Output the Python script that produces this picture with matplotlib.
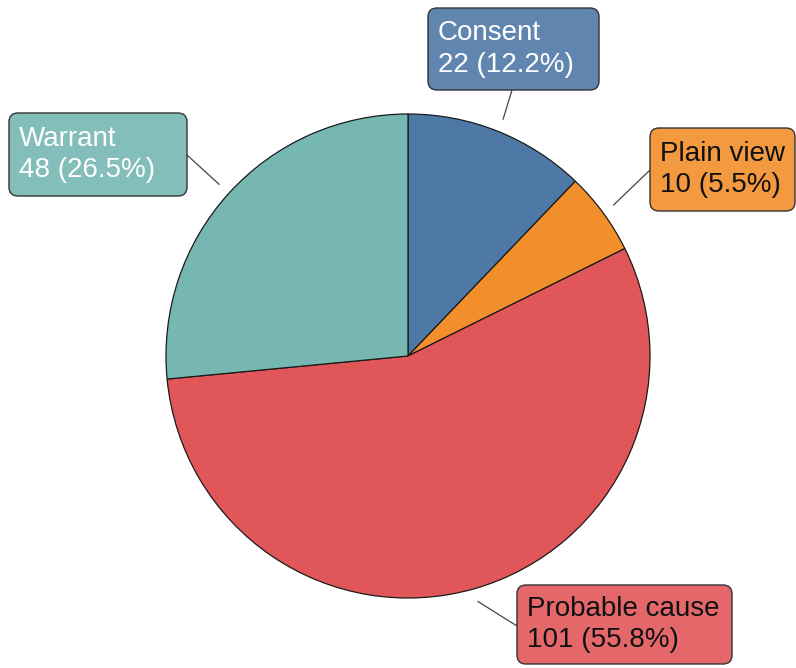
import matplotlib
matplotlib.use("Agg")
import matplotlib.pyplot as plt
from matplotlib.patches import FancyBboxPatch
from matplotlib.colors import to_rgb
import numpy as np

categories = ["Consent", "Plain view", "Probable cause", "Warrant"]
counts = [22, 10, 101, 48]
colors = ["#4e79a7", "#f28e2b", "#e15759", "#76b7b2"]
text_colors = ["white", "#111111", "#111111", "white"]

W, H = 796, 668
fig = plt.figure(figsize=(W / 100, H / 100), dpi=100)
ax = fig.add_axes([0, 0, 1, 1])

cx, cy, R = 408, H - 356, 242
wedges, _ = ax.pie(counts, startangle=90, counterclock=False, colors=colors,
                   center=(cx, cy), radius=R, frame=True,
                   wedgeprops=dict(edgecolor="#1a1a1a", linewidth=0.9))
ax.set_xlim(0, W)
ax.set_ylim(0, H)
ax.set_aspect("equal")
ax.axis("off")

# label boxes (pixel coords, top-origin): x0, y0, x1, y1
boxes = [(428, 8, 599, 90), (650, 128, 795, 211), (517, 585, 732, 664), (9, 113, 187, 196)]
# where each leader line meets its box (pixel coords, top-origin)
anchors = [(512, 90), (650, 170), (517, 626), (187, 155)]

total = sum(counts)
cum = 0
for i, (cat, n) in enumerate(zip(categories, counts)):
    mid = np.deg2rad(90 - (cum + n / 2) / total * 360)
    cum += n
    r1 = 1.055 * R
    ax_, ay_ = anchors[i]
    ax.plot([cx + r1 * np.cos(mid), ax_],
            [cy + r1 * np.sin(mid), H - ay_],
            color="#444444", lw=0.9, zorder=3)
    x0, y0, x1, y1 = boxes[i]
    c = np.array(to_rgb(colors[i]))
    fc = 0.9 * c + 0.1
    patch = FancyBboxPatch((x0, H - y1), x1 - x0, y1 - y0,
                           boxstyle="round,pad=0,rounding_size=9",
                           facecolor=fc, edgecolor="#333333", lw=1.0, zorder=4)
    ax.add_patch(patch)
    pct = n / total * 100
    ax.text(x0 + 10, H - (y0 + y1) / 2, f"{cat}\n{n} ({pct:.1f}%)",
            ha="left", va="center", fontsize=20, family="Liberation Sans",
            color=text_colors[i], linespacing=1.25, zorder=5)

fig.savefig("out.png", dpi=100)
